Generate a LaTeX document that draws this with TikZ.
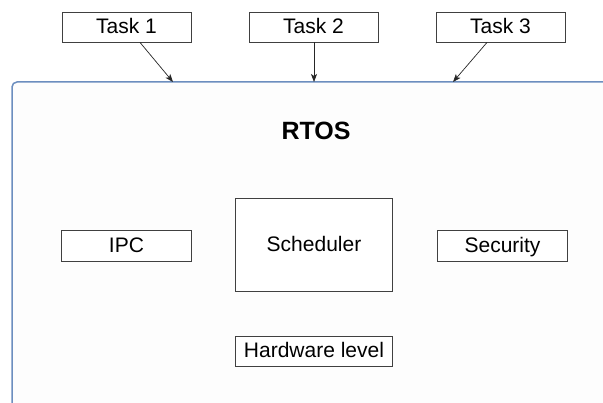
\documentclass[tikz,border=0pt]{standalone}
\usepackage{fontspec}
\setmainfont{Liberation Sans}
\usepackage{xcolor}
\usepackage{tikz}
\usetikzlibrary{arrows.meta, positioning, calc}

\definecolor{osblue}{HTML}{6C8EBF}

\begin{document}
\begin{tikzpicture}[
            x=1pt, y=-1pt,
            block/.style={rectangle, draw=black!75, line width=0.9pt, fill=white, minimum width=129pt, minimum height=30pt, inner sep=0pt, text height=14pt, text depth=0pt, font=\fontsize{21}{24}\selectfont},
            bigblock/.style={block, minimum width=157pt},
            title/.style={font=\fontsize{25}{28}\selectfont\bfseries}
        ]
            \useasboundingbox (0,0) rectangle (603,403);
            \clip (0,0) rectangle (603,403);

            % RTOS frame, runs off the right and bottom
            \draw[osblue, line width=1.5pt, fill=black!0.8, rounded corners=5pt] (12,82) rectangle (640,440);
            \coordinate (in1) at (173,82);
            \coordinate (in2) at (314,82);
            \coordinate (in3) at (453,82);

            % Nodes
            \node[block] (task1) at (126.5,27) {Task 1};
            \node[block] (task2) at (313.5,27) {Task 2};
            \node[block] (task3) at (500.5,27) {Task 3};

            \node[title] (rtos) at (316,131) {RTOS};

            \node[bigblock, minimum height=93pt] (sched) at (314,244.5) {Scheduler};
            \node[block, minimum width=130pt, minimum height=31pt] (ipc) at (126.5,245.5) {IPC};
            \node[block, minimum width=130pt, minimum height=31pt] (sec) at (502.5,245.5) {Security};
            \node[bigblock] (hw) at (314,351) {Hardware level};

            % Arrows
            \path[-{Stealth[length=8pt, width=6pt, inset=2pt]}, line width=0.7pt, black!85]
                ([xshift=13.5pt]task1.south) edge (in1)
                ([xshift=0.5pt]task2.south) edge (in2)
                ([xshift=-13.5pt]task3.south) edge (in3);

        \end{tikzpicture}
\end{document}
